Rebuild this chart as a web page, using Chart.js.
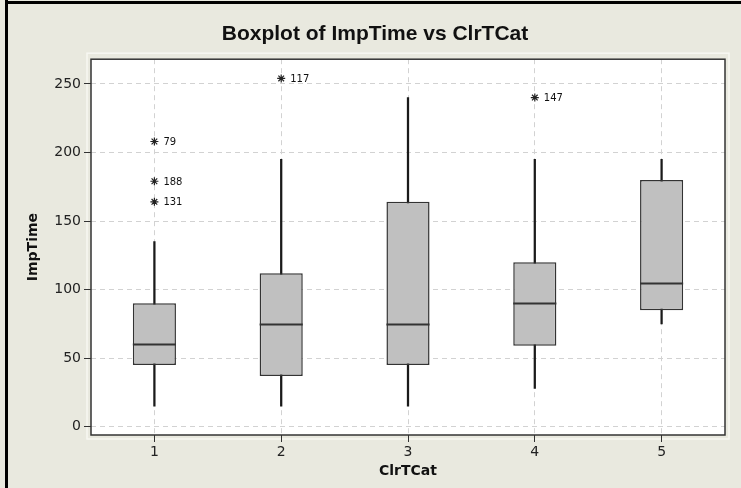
<!DOCTYPE html>
<html>
<head>
<meta charset="utf-8">
<script src="https://cdn.jsdelivr.net/npm/chart.js@4.4.1/dist/chart.umd.min.js"></script>
<style>
  html, body { margin: 0; padding: 0; background: #e9e9df; }
  #wrap { position: relative; width: 741px; height: 488px; }
</style>
</head>
<body>
<div id="wrap"><canvas id="boxChart" width="741" height="488"></canvas></div>
<script>
/* --------------- Data ---------------------------------------- */
const categories = ["1", "2", "3", "4", "5"];
const whiskerLow = [15, 15, 15, 28, 75];
const q1Values = [45, 37, 45, 59, 85];
const medianValues = [60, 75, 75, 90, 105];
const q3Values = [90, 112, 164, 120, 180];
const whiskerHigh = [135, 195, 240, 195, 195];
// outliers (category, value, row number)
const outlierCat = [1, 1, 1, 2, 4];
const outlierValues = [208, 179, 164, 254, 240];
const outlierRows = ["79", "188", "131", "117", "147"];
const yTicks = [0, 50, 100, 150, 200, 250];

const tickFont = { family: "DejaVu Sans", size: 14 };
const axisTitleFont = { family: "DejaVu Sans", size: 14, weight: "bold" };

/* --------------- Background, frame, medians, outlier labels --------------------- */
const boxDecor = {
  id: "boxDecor",
  beforeDraw(chart) {
    const { ctx, chartArea: a, width, height } = chart;
    ctx.save();
    ctx.fillStyle = "#e9e9df";
    ctx.fillRect(0, 0, width, height);
    // black window edge
    ctx.fillStyle = "#000";
    ctx.fillRect(5, 0, 3, height);
    ctx.fillRect(5, 1, width, 3);
    // light outline of the figure region
    ctx.strokeStyle = "#f7f7f2";
    ctx.lineWidth = 1.5;
    ctx.strokeRect(a.left - 4, a.top - 6, a.right - a.left + 8, a.bottom - a.top + 10);
    ctx.fillStyle = "#ffffff";
    ctx.fillRect(a.left, a.top, a.right - a.left, a.bottom - a.top);
    ctx.restore();
  },
  afterDatasetsDraw(chart) {
    const { ctx, chartArea: a } = chart;
    const y = chart.scales.y;
    const boxMeta = chart.getDatasetMeta(0);
    ctx.save();
    // median lines
    ctx.strokeStyle = "#333";
    ctx.lineWidth = 2;
    boxMeta.data.forEach((bar, i) => {
      const py = Math.round(y.getPixelForValue(medianValues[i])) + 0.5;
      ctx.beginPath();
      ctx.moveTo(bar.x - bar.width / 2, py);
      ctx.lineTo(bar.x + bar.width / 2, py);
      ctx.stroke();
    });
    // outlier row labels
    const outMeta = chart.getDatasetMeta(2);
    ctx.fillStyle = "#111";
    ctx.font = "10px 'DejaVu Sans'";
    ctx.textBaseline = "middle";
    outMeta.data.forEach((pt, i) => {
      ctx.fillText(outlierRows[i], pt.x + 9, pt.y + 1);
    });
    // plot frame
    ctx.strokeStyle = "#333";
    ctx.lineWidth = 1.5;
    ctx.strokeRect(a.left, a.top, a.right - a.left, a.bottom - a.top);
    ctx.restore();
  },
};

const boxChart = new Chart(document.getElementById("boxChart"), {
  type: "bar",
  plugins: [boxDecor],
  data: {
    datasets: [
      {
        label: "box",
        data: categories.map((c, i) => ({ x: i + 1, y: [q1Values[i], q3Values[i]] })),
        backgroundColor: "#c0c0c0",
        borderColor: "#333",
        borderWidth: 1.5,
        borderSkipped: false,
        grouped: false,
        barPercentage: 0.34,
        categoryPercentage: 1,
        order: 1,
      },
      {
        label: "whisker",
        data: categories.map((c, i) => ({ x: i + 1, y: [whiskerLow[i], whiskerHigh[i]] })),
        backgroundColor: "#1a1a1a",
        grouped: false,
        maxBarThickness: 1.6,
        barPercentage: 1,
        categoryPercentage: 1,
        order: 2,
      },
      {
        type: "scatter",
        label: "outliers",
        data: outlierValues.map((v, i) => ({ x: outlierCat[i], y: v })),
        pointStyle: "star",
        radius: 4,
        borderColor: "#222",
        borderWidth: 1.2,
        backgroundColor: "#222",
        order: 0,
      },
    ],
  },
  options: {
    responsive: false,
    animation: false,
    layout: { padding: { left: 25, right: 16, top: 0, bottom: 0 } },
    plugins: {
      legend: { display: false },
      tooltip: { enabled: false },
      title: {
        display: true,
        text: "Boxplot of ImpTime vs ClrTCat",
        color: "#111",
        font: { family: "Liberation Sans", size: 21, weight: "bold" },
        padding: { top: 22, bottom: 12 },
      },
    },
    scales: {
      x: {
        type: "linear",
        min: 0.5,
        max: 5.5,
        offset: false,
        afterBuildTicks: (s) => { s.ticks = categories.map((c, i) => ({ value: i + 1 })); },
        afterFit: (s) => { s.height = 53; },
        ticks: {
          callback: (v) => categories[v - 1],
          font: tickFont,
          color: "#222",
          padding: 2,
          autoSkip: false,
          maxRotation: 0,
        },
        grid: { offset: false, color: "#d2d2d2", tickColor: "#333", tickLength: 7 },
        border: { display: false, dash: [5, 4] },
        title: {
          display: true,
          text: "ClrTCat",
          color: "#111",
          font: axisTitleFont,
          padding: { top: 0, bottom: 8 },
        },
      },
      y: {
        type: "linear",
        min: -6,
        max: 268,
        afterBuildTicks: (s) => { s.ticks = yTicks.map((v) => ({ value: v })); },
        afterFit: (s) => { s.width = 66; },
        ticks: { font: tickFont, color: "#222", padding: 3 },
        grid: { color: "#d2d2d2", tickColor: "#333", tickLength: 7 },
        border: { display: false, dash: [5, 4] },
        title: {
          display: true,
          text: "ImpTime",
          color: "#111",
          font: axisTitleFont,
          padding: { top: 0, bottom: 0 },
        },
      },
    },
  },
});
</script>
</body>
</html>
